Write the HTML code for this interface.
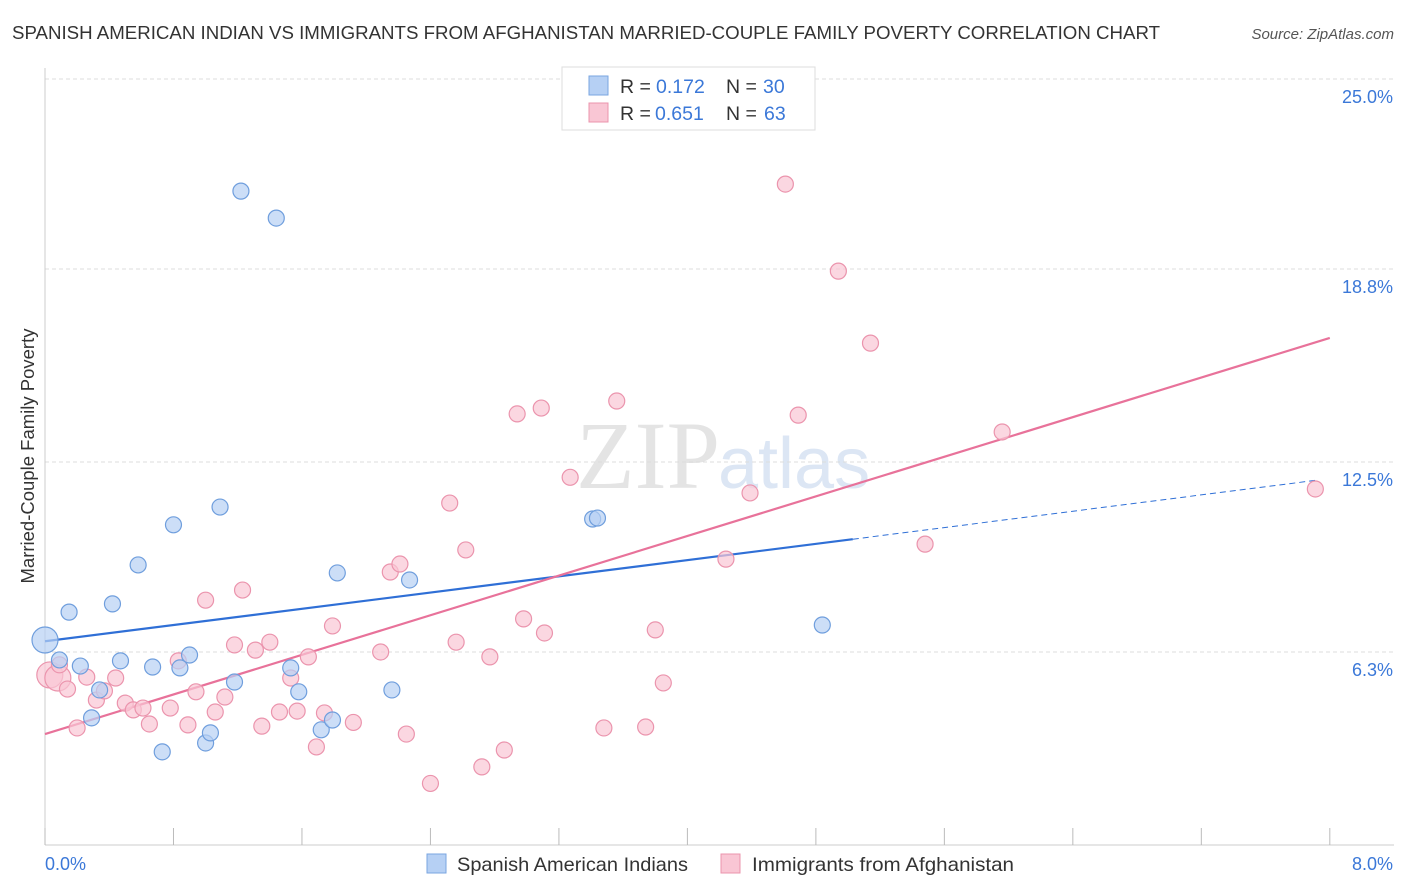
<!DOCTYPE html>
<html><head><meta charset="utf-8"><style>
body{margin:0;background:#fff;font-family:"Liberation Sans",sans-serif;}
svg{display:block}
</style></head><body>
<svg id="chart" width="1406" height="892">
<text x="12" y="39" font-size="18" fill="#333" textLength="1148" lengthAdjust="spacingAndGlyphs">SPANISH AMERICAN INDIAN VS IMMIGRANTS FROM AFGHANISTAN MARRIED-COUPLE FAMILY POVERTY CORRELATION CHART</text>
<text x="1394" y="39" font-size="15" fill="#555" font-style="italic" text-anchor="end">Source: ZipAtlas.com</text>
<text x="34" y="456" font-size="18.5" fill="#333" text-anchor="middle" transform="rotate(-90 34 456)">Married-Couple Family Poverty</text>
<text x="720" y="488" font-size="96" fill="#e4e4e4" text-anchor="end" font-family="Liberation Serif,serif">ZIP</text>
<text x="718" y="488" font-size="72" fill="#dce6f4">atlas</text>
<g id="grid"></g><g id="axes"></g><g id="lines"></g><g id="pts"></g>
<g>
<rect x="562" y="67" width="253" height="63" fill="#fff" stroke="#ddd"/>
<rect x="589" y="76" width="19" height="19" fill="#b6d0f4" stroke="#7aa6e0"/>
<rect x="589" y="103" width="19" height="19" fill="#f9c6d4" stroke="#eb94ad"/>
<text y="93" font-size="19.5" fill="#333"><tspan x="620">R =</tspan><tspan x="656" fill="#3b78d8">0.172</tspan><tspan x="726">N =</tspan><tspan x="763" fill="#3b78d8">30</tspan></text>
<text y="120" font-size="19.5" fill="#333"><tspan x="620">R =</tspan><tspan x="655" fill="#3b78d8">0.651</tspan><tspan x="726">N =</tspan><tspan x="764" fill="#3b78d8">63</tspan></text>
</g>
<g>
<rect x="427" y="854" width="19" height="19" fill="#b6d0f4" stroke="#7aa6e0"/>
<text x="457" y="871" font-size="19.5" fill="#333" textLength="231" lengthAdjust="spacingAndGlyphs">Spanish American Indians</text>
<rect x="721" y="854" width="19" height="19" fill="#f9c6d4" stroke="#eb94ad"/>
<text x="752" y="871" font-size="19.5" fill="#333" textLength="262" lengthAdjust="spacingAndGlyphs">Immigrants from Afghanistan</text>
</g>
</svg>
<script>
const yTicks=[6.3,12.5,18.8,25.0];
const yTickLabels=["6.3%","12.5%","18.8%","25.0%"];
const xTickCount=10;
const blueX=[0.0,0.09,0.15,0.22,0.29,0.34,0.42,0.47,0.58,0.67,0.73,0.80,0.84,0.90,1.00,1.03,1.09,1.18,1.22,1.44,1.53,1.58,1.72,1.79,1.82,2.16,2.27,3.41,3.44,4.84];
const blueY=[6.69,6.04,7.60,5.84,4.15,5.06,7.87,6.01,9.14,5.81,3.04,10.45,5.78,6.20,3.33,3.66,11.03,5.32,21.34,20.46,5.78,5.00,3.76,4.08,8.88,5.06,8.65,10.64,10.67,7.18];
const pinkX=[0.03,0.08,0.14,0.09,0.20,0.26,0.32,0.37,0.44,0.50,0.55,0.65,0.61,0.78,0.83,0.89,0.94,1.00,1.06,1.12,1.18,1.23,1.31,1.35,1.40,1.46,1.53,1.57,1.64,1.69,1.74,1.79,1.92,2.09,2.15,2.21,2.25,2.40,2.52,2.56,2.62,2.72,2.77,2.86,2.94,2.98,3.09,3.11,3.27,3.48,3.56,3.74,3.80,3.85,4.24,4.39,4.61,4.69,4.94,5.14,5.48,5.96,7.91];
const pinkY=[5.55,5.45,5.09,5.88,3.82,5.48,4.73,5.03,5.45,4.63,4.41,3.95,4.47,4.47,6.01,3.92,5.00,7.99,4.34,4.83,6.53,8.32,6.36,3.88,6.62,4.34,5.45,4.37,6.14,3.20,4.31,7.15,4.00,6.30,8.91,9.17,3.62,2.01,11.16,6.62,9.63,2.55,6.14,3.10,14.07,7.38,14.26,6.92,12.00,3.82,14.49,3.85,7.02,5.29,9.33,11.49,21.57,14.03,18.73,16.38,9.82,13.48,11.62];
const blueLine=[[0,6.65],[5.03,9.98],[7.91,11.9]];
const pinkLine=[[0,3.62],[8.0,16.55]];
const NS="http://www.w3.org/2000/svg";
const xs=v=>45+v*160.6, ys=v=>845-v*30.64;
function mk(t,a,p){const e=document.createElementNS(NS,t);for(const k in a)e.setAttribute(k,a[k]);p.appendChild(e);return e;}
const grid=document.getElementById('grid'),axes=document.getElementById('axes'),lines=document.getElementById('lines'),pts=document.getElementById('pts');
yTicks.forEach((v,i)=>{
 const l=mk('line',{x1:45,x2:1394,y1:ys(v),y2:ys(v),stroke:'#ddd','stroke-dasharray':'4 3'},grid);
 
 
 const t=mk('text',{x:1393,y:ys(v)+24,'font-size':18,fill:'#3b78d8','text-anchor':'end'},grid);
 t.textContent=yTickLabels[i];
 
 
});
const ax=mk('line',{x1:45,x2:1394,y1:845,y2:845,stroke:'#ccc'},axes);


const ay=mk('line',{x1:45,x2:45,y1:68,y2:845,stroke:'#ccc'},axes);


for(let i=0;i<=xTickCount;i++){
 const x=xs(i*0.8);
 const tk=mk('line',{x1:x,x2:x,y1:828,y2:845,stroke:'#bbb'},axes);
 
 
}
const xl0=mk('text',{x:45,y:870,'font-size':18,fill:'#3b78d8'},axes);xl0.textContent='0.0%';


const xl1=mk('text',{x:1393,y:870,'font-size':18,fill:'#3b78d8','text-anchor':'end'},axes);xl1.textContent='8.0%';


function dot(x,y,r,f,s,name){const c=mk('circle',{cx:xs(x),cy:ys(y),r:r,fill:f,'fill-opacity':0.7,stroke:s,'stroke-width':1.2},pts);
 
 }
pinkX.forEach((x,i)=>dot(x,pinkY[i],i<2?13:8,'#f9c6d4','#eb94ad','pink-point'));
blueX.forEach((x,i)=>dot(x,blueY[i],i==0?13:8,'#b6d0f4','#6f9edd','blue-point'));
const bl=mk('line',{x1:xs(blueLine[0][0]),y1:ys(blueLine[0][1]),x2:xs(blueLine[1][0]),y2:ys(blueLine[1][1]),stroke:'#2f6fd6','stroke-width':2.2},lines);


const bd=mk('line',{x1:xs(blueLine[1][0]),y1:ys(blueLine[1][1]),x2:xs(blueLine[2][0]),y2:ys(blueLine[2][1]),stroke:'#2f6fd6','stroke-width':1,'stroke-dasharray':'6 4'},lines);


const pl=mk('line',{x1:xs(pinkLine[0][0]),y1:ys(pinkLine[0][1]),x2:xs(pinkLine[1][0]),y2:ys(pinkLine[1][1]),stroke:'#e8729a','stroke-width':2.2},lines);


</script>
</body></html>
